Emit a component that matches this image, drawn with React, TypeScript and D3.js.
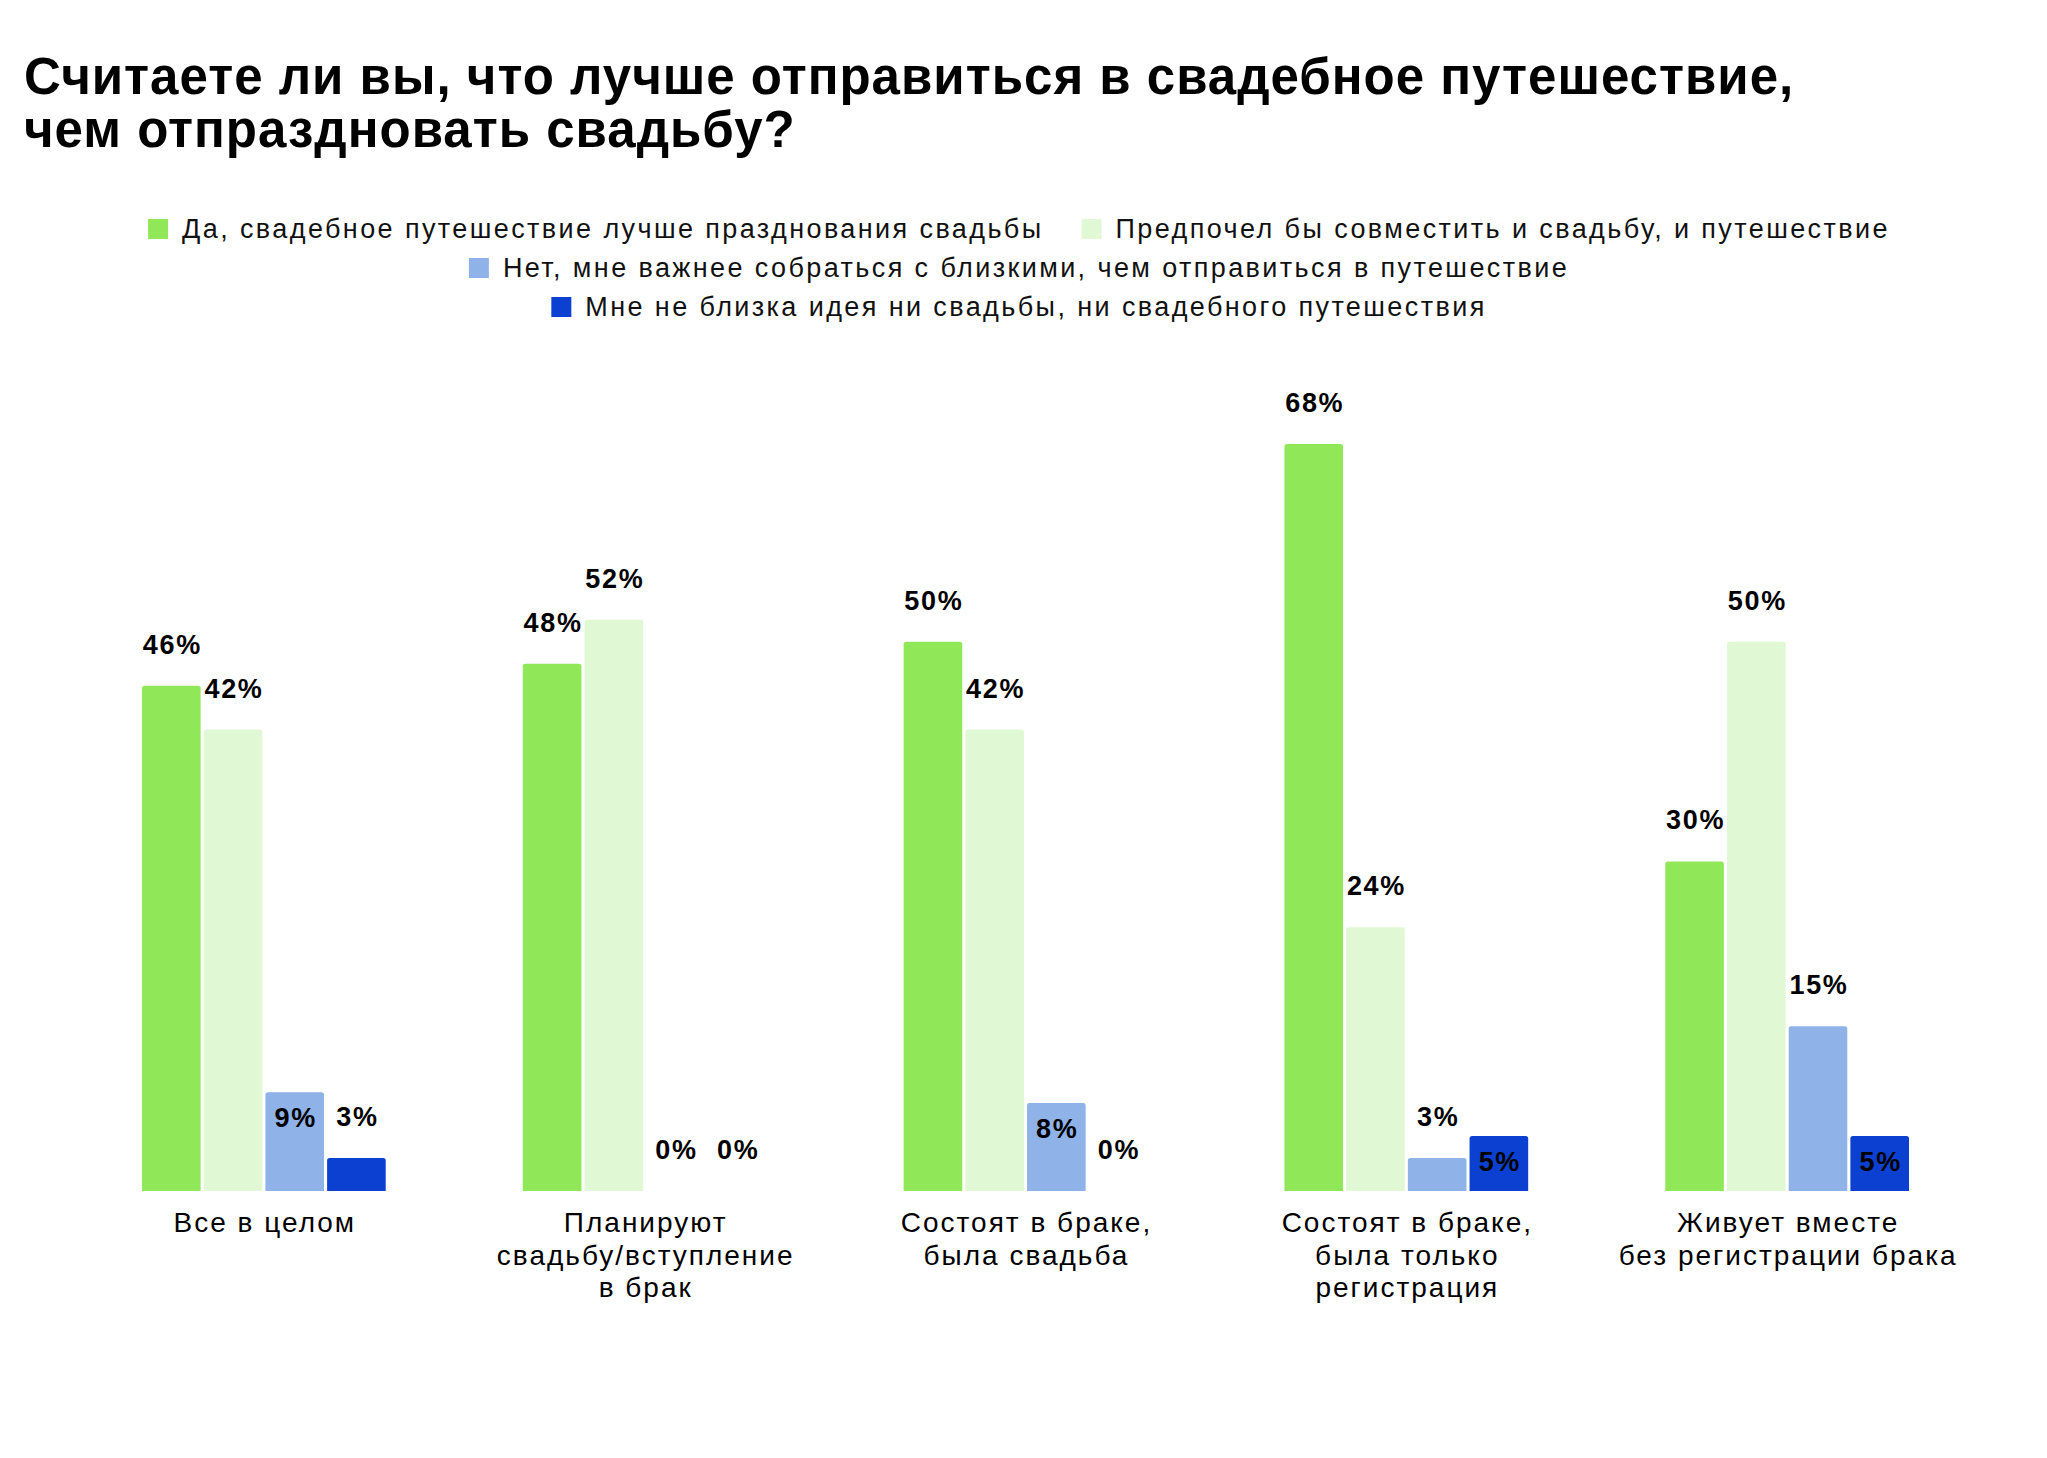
import React, { useEffect, useRef } from 'react';
import * as d3 from 'd3';

const titleLines = [
  'Считаете ли вы, что лучше отправиться в свадебное путешествие,',
  'чем отпраздновать свадьбу?',
];

const seriesNames = [
  'Да, свадебное путешествие лучше празднования свадьбы',
  'Предпочел бы совместить и свадьбу, и путешествие',
  'Нет, мне важнее собраться с близкими, чем отправиться в путешествие',
  'Мне не близка идея ни свадьбы, ни свадебного путешествия',
];

const seriesColors = ['#90e858', '#e1f8d4', '#8fb2e8', '#0c40d0'];

const categories = [
  ['Все в целом'],
  ['Планируют', 'свадьбу/вступление', 'в брак'],
  ['Состоят в браке,', 'была свадьба'],
  ['Состоят в браке,', 'была только', 'регистрация'],
  ['Живует вместе', 'без регистрации брака'],
];

// values per series, one entry per category
const yesTrip = [46, 48, 50, 68, 30];
const both = [42, 52, 42, 24, 50];
const family = [9, 0, 8, 3, 15];
const neither = [3, 0, 0, 5, 5];

// labels that sit inside the bar instead of above it: [category, series]
const insideLabels = ['0-2', '2-2', '3-3', '4-3'];

const W = 2047;
const H = 1458;
const FONT = '"Liberation Sans", Arial, sans-serif';

const App = () => {
  const ref = useRef<SVGSVGElement | null>(null);

  useEffect(() => {
    const svg = d3.select(ref.current);
    svg.selectAll('*').remove();

    const series = [yesTrip, both, family, neither];
    const catKeys = categories.map((c) => c.join(' '));

    const x = d3.scaleBand<string>()
      .domain(catKeys)
      .range([142, 1909])
      .paddingInner(0.36)
      .paddingOuter(0);

    const xInner = d3.scaleBand<number>()
      .domain(d3.range(series.length))
      .range([0, x.bandwidth()])
      .paddingInner(0.05);

    const y = d3.scaleLinear().domain([0, 68]).range([1191, 444]);

    svg.append('rect').attr('width', W).attr('height', H).attr('fill', '#fff');

    // title
    svg.append('g')
      .selectAll('text')
      .data(titleLines)
      .enter().append('text')
      .attr('x', 24)
      .attr('y', (d, i) => 94 + i * 53)
      .attr('font-family', FONT)
      .attr('font-weight', 700)
      .attr('font-size', 51)
      .attr('letter-spacing', 1)
      .attr('fill', '#000')
      .text((d) => d);

    // legend, centred rows
    const legendRows = [[0, 1], [2], [3]];
    const legendCx = 1019;
    const legend = svg.append('g')
      .attr('font-family', FONT)
      .attr('font-size', 27)
      .attr('letter-spacing', 2.4);
    legendRows.forEach((row, ri) => {
      const rowG = legend.append('g');
      let cx = 0;
      row.forEach((si, k) => {
        const item = rowG.append('g').attr('transform', `translate(${cx},0)`);
        item.append('rect')
          .attr('x', 0)
          .attr('y', -19)
          .attr('width', 20)
          .attr('height', 20)
          .attr('fill', seriesColors[si]);
        const t = item.append('text')
          .attr('x', 34)
          .attr('y', 0)
          .attr('fill', '#111')
          .text(seriesNames[si]);
        const tw = (t.node() as SVGTextElement).getComputedTextLength();
        cx += 34 + tw + (k < row.length - 1 ? 38 : 0);
      });
      rowG.attr('transform', `translate(${legendCx - cx / 2},${238 + ri * 39})`);
    });

    // bars
    const chart = svg.append('g');
    categories.forEach((cat, ci) => {
      const g = chart.append('g').attr('transform', `translate(${x(catKeys[ci])},0)`);
      series.forEach((vals, si) => {
        const v = vals[ci];
        const bx = xInner(si) as number;
        const bw = xInner.bandwidth();
        const top = y(v);
        const h = y(0) - top;
        if (h > 0) {
          const r = Math.min(2.5, h);
          g.append('path')
            .attr('d', `M${bx},${y(0)}V${top + r}Q${bx},${top} ${bx + r},${top}H${bx + bw - r}Q${bx + bw},${top} ${bx + bw},${top + r}V${y(0)}Z`)
            .attr('fill', seriesColors[si]);
        }
        const inside = insideLabels.includes(`${ci}-${si}`);
        g.append('text')
          .attr('x', bx + bw / 2 + 1)
          .attr('y', inside ? top + 35 : top - 32)
          .attr('text-anchor', 'middle')
          .attr('font-family', FONT)
          .attr('font-weight', 700)
          .attr('font-size', 27)
          .attr('letter-spacing', 1.7)
          .attr('fill', '#000')
          .text(`${v}%`);
      });

      // category label
      const lbl = g.append('text')
        .attr('text-anchor', 'middle')
        .attr('font-family', FONT)
        .attr('font-size', 28)
        .attr('letter-spacing', 2)
        .attr('fill', '#000');
      cat.forEach((line, li) => {
        lbl.append('tspan')
          .attr('x', x.bandwidth() / 2 + 1)
          .attr('y', 1232 + li * 32.5)
          .text(line);
      });
    });
  }, []);

  return (
    <svg
      ref={ref}
      width={W}
      height={H}
      style={{ position: 'absolute', left: 0, top: 0 }}
    ></svg>
  );
};

export default App;
